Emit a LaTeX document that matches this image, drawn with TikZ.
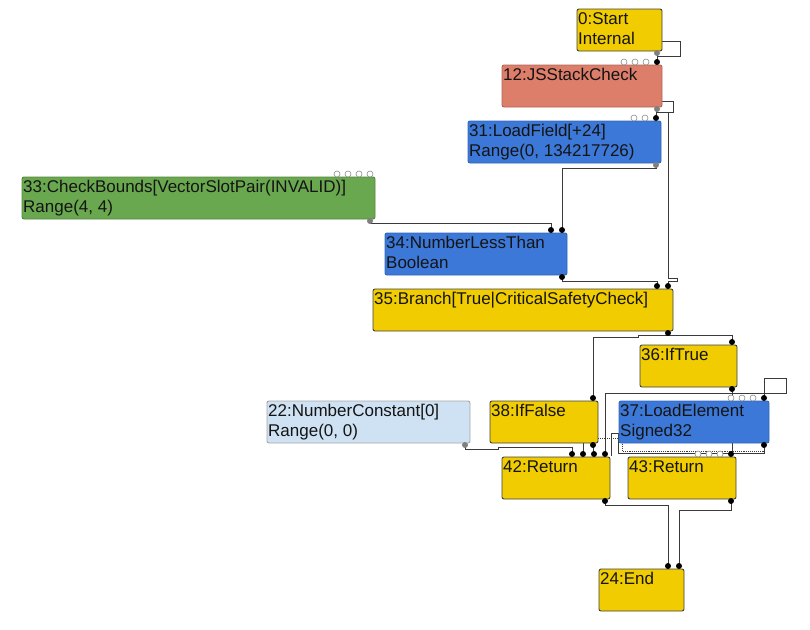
\documentclass[tikz,border=0pt]{standalone}
\usepackage{fontspec}
\setmainfont{Liberation Sans}
\usetikzlibrary{positioning,backgrounds}
\definecolor{ctrl}{RGB}{240,204,0}
\definecolor{jsop}{RGB}{221,126,107}
\definecolor{simp}{RGB}{60,120,216}
\definecolor{chk}{RGB}{106,168,79}
\definecolor{cnst}{RGB}{207,226,243}
\definecolor{edgegray}{RGB}{58,58,58}

\begin{document}
\begin{tikzpicture}[
  x=1pt, y=-1pt,
  box/.style={anchor=north west, minimum height=42, inner sep=0pt,
              outer sep=0pt, rounded corners=2pt, line width=0.9pt},
  ctrlbox/.style={box, fill=ctrl, draw=black!75},
  jsbox/.style={box, fill=jsop, draw=jsop!80!black},
  simpbox/.style={box, fill=simp, draw=simp!85!black},
  chkbox/.style={box, fill=chk, draw=chk!80!black},
  cnstbox/.style={box, fill=cnst, draw=black!35},
  lbl/.style={anchor=north west, inner xsep=1pt, inner ysep=3pt, align=left,
              font=\fontsize{17}{20}\selectfont, text=black!92},
  indot/.style={circle, fill=black, inner sep=0pt, minimum size=6pt},
  outdot/.style={indot, fill=black!50},
  freedot/.style={circle, draw=black!45, fill=white, inner sep=0pt,
                  minimum size=6pt, line width=0.6pt},
  link/.style={draw=edgegray, line width=0.9pt},
  fxlink/.style={link, densely dotted},
]

\useasboundingbox (0,0) rectangle (810,629);

% ---- nodes ----
\node[ctrlbox, minimum width=85,
      label={[lbl]north west:{0:Start\\Internal}}] (n0) at (577,9) {};
\node[jsbox, minimum width=160,
      label={[lbl]north west:{12:JSStackCheck}}] (n12) at (502,65) {};
\node[simpbox, minimum width=193,
      label={[lbl]north west:{31:LoadField[+24]\\Range(0, 134217726)}}] (n31) at (468,121) {};
\node[chkbox, minimum width=353,
      label={[lbl]north west:{33:CheckBounds[VectorSlotPair(INVALID)]\\Range(4, 4)}}] (n33) at (22,177) {};
\node[simpbox, minimum width=182,
      label={[lbl]north west:{34:NumberLessThan\\Boolean}}] (n34) at (385,233) {};
\node[ctrlbox, minimum width=300,
      label={[lbl]north west:{35:Branch[True|CriticalSafetyCheck]}}] (n35) at (373,289) {};
\node[ctrlbox, minimum width=97,
      label={[lbl]north west:{36:IfTrue}}] (n36) at (640,345) {};
\node[cnstbox, minimum width=203,
      label={[lbl]north west:{22:NumberConstant[0]\\Range(0, 0)}}] (n22) at (267,401) {};
\node[ctrlbox, minimum width=108,
      label={[lbl]north west:{38:IfFalse}}] (n38) at (490,401) {};
\node[simpbox, minimum width=150,
      label={[lbl]north west:{37:LoadElement\\Signed32}}] (n37) at (619,401) {};
\node[ctrlbox, minimum width=108,
      label={[lbl]north west:{42:Return}}] (n42) at (502,457) {};
\node[ctrlbox, minimum width=108,
      label={[lbl]north west:{43:Return}}] (n43) at (628,457) {};
\node[ctrlbox, minimum width=85,
      label={[lbl]north west:{24:End}}] (n24) at (599,569) {};

% ---- ports ----
\node[outdot] (o0) at ([xshift=-5,yshift=-2]n0.south east) {};

\node[indot] (i12) at ([xshift=-5,yshift=3]n12.north east) {};
\foreach \k in {1,2,3}
  \node[freedot] (f12\k) at ([xshift=-5-11*\k,yshift=3]n12.north east) {};
\node[outdot] (o12) at ([xshift=-5,yshift=-2]n12.south east) {};

\node[indot] (i31) at ([xshift=-5,yshift=3]n31.north east) {};
\foreach \k in {1,2}
  \node[freedot] (f31\k) at ([xshift=-5-11*\k,yshift=3]n31.north east) {};
\node[outdot] (o31) at ([xshift=-5,yshift=-2]n31.south east) {};

\foreach \k in {0,...,3}
  \node[freedot] (f33\k) at ([xshift=-5-11*\k,yshift=3]n33.north east) {};
\node[outdot] (o33) at ([xshift=-5,yshift=-2]n33.south east) {};

\node[indot] (i34a) at ([xshift=-16,yshift=3]n34.north east) {};
\node[indot] (i34b) at ([xshift=-5,yshift=3]n34.north east) {};
\node[indot] (o34) at ([xshift=-5,yshift=-2]n34.south east) {};

\node[indot] (i35a) at ([xshift=-16,yshift=3]n35.north east) {};
\node[indot] (i35b) at ([xshift=-5,yshift=3]n35.north east) {};
\node[indot] (o35) at ([xshift=-5,yshift=-2]n35.south east) {};

\node[indot] (i36) at ([xshift=-5,yshift=3]n36.north east) {};
\node[indot] (o36) at ([xshift=-5,yshift=-2]n36.south east) {};

\node[indot] (i37) at ([xshift=-5,yshift=3]n37.north east) {};
\foreach \k in {1,2,3}
  \node[freedot] (f37\k) at ([xshift=-5-11*\k,yshift=3]n37.north east) {};
\node[indot] (o37) at ([xshift=-5,yshift=-2]n37.south east) {};

\node[indot] (i38) at ([xshift=-5,yshift=3]n38.north east) {};
\node[indot] (o38) at ([xshift=-5,yshift=-2]n38.south east) {};

\node[outdot] (o22) at ([xshift=-5,yshift=-2]n22.south east) {};

\node[indot] (i42a) at ([xshift=-38,yshift=3]n42.north east) {};
\node[indot] (i42b) at ([xshift=-27,yshift=3]n42.north east) {};
\node[indot] (i42c) at ([xshift=-16,yshift=3]n42.north east) {};
\node[indot] (i42d) at ([xshift=-5,yshift=3]n42.north east) {};
\node[indot] (o42) at ([xshift=-5,yshift=-2]n42.south east) {};

\node[indot] (i43) at ([xshift=-5,yshift=3]n43.north east) {};
\foreach \k in {1,2,3}
  \node[freedot] (f43\k) at ([xshift=-5-11*\k,yshift=3]n43.north east) {};
\node[indot] (o43) at ([xshift=-5,yshift=-2]n43.south east) {};

\node[indot] (i24a) at ([xshift=-16,yshift=3]n24.north east) {};
\node[indot] (i24b) at ([xshift=-5,yshift=3]n24.north east) {};

% ---- edges ----
\begin{scope}[on background layer]
\draw[link] (o0.center) -- (i12.center);
\draw[link] ([yshift=10]n0.south east) -- ++(18,0) |- ([yshift=-3]o0.center);
\draw[link] (o12.center) -- (i31.center);
\draw[link] ([yshift=6]n12.south east) -- ++(11,0) |- ([yshift=-3]o12.center);
\draw[link] ([xshift=11,yshift=-3]o12.center) -- ++(0,166) -- ++(9,0)
            -- ++(0,3) -| (i35b.center);
\draw[link] (o31.center) -- ++(0,3) -| (i34b.center);
\draw[link] (o33.center) -- ++(0,2) -| (i34a.center);
\draw[link] (o34.center) -- ++(0,4) -| (i35a.center);
\draw[link] (o35.center) -- ++(0,2) -| (i36.center);
\draw[link] (o35.center) -- ++(0,2) -- ++(-30,0) -- ++(0,2) -| (i38.center);
\draw[link] (o36.center) -- ++(0,4) -- ++(54,0) -- ++(0,-15) -| (i37.center);
\draw[link] (o36.center) -- ++(0,4) -| (i42d.center);
\draw[link] (o36.center) |- (i43.center);
\draw[link] (o22.center) -- ++(0,4) -- ++(33,0) -- ++(0,-2) -| (i42a.center);
\draw[link] (o38.center) |- (i42c.center);
\draw[link] (n38.south -| i42b) -- (i42b.center);
\draw[fxlink] (o37.center) -- ++(0,6) -- ++(-142,0) -- ++(0,-13) -- (n38.east |- 0,438);
\draw[link] (o37.center) -- ++(0,8) -- ++(-146,0) -- ++(0,-20) -- ++(-7,0)
            -- ++(0,23);
\draw[link] (o42.center) -- ++(0,4) -| (i24a.center);
\draw[link] (o43.center) -- ++(0,9) -| (i24b.center);
\end{scope}

\end{tikzpicture}
\end{document}
